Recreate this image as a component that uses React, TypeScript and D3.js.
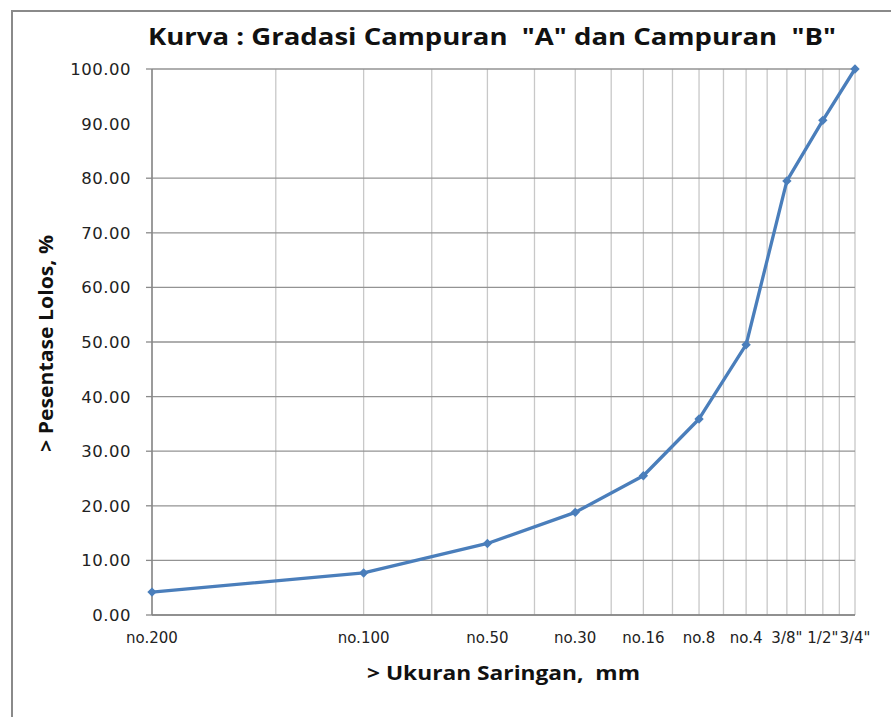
import React from "react";
import * as d3 from "d3";

// Sieve labels and their plotting positions on the logarithmic axis
const sieveLabels = ["no.200", "no.100", "no.50", "no.30", "no.16", "no.8", "no.4", '3/8"', '1/2"', '3/4"'];
const plotPositions = [2, 4, 6, 8, 10, 12, 14, 16, 18, 20];
// Percent passing
const passing = [4.2, 7.7, 13.1, 18.8, 25.5, 35.9, 49.5, 79.5, 90.6, 100];
// Y ticks
const yTicks = [0, 10, 20, 30, 40, 50, 60, 70, 80, 90, 100];
const yGridSkip = [90];
const xGridValues = d3.range(2, 21);

const title = 'Kurva : Gradasi Campuran  "A" dan Campuran  "B"';
const yTitle = "> Pesentase Lolos, %";
const xTitle = "> Ukuran Saringan,  mm";

const W = 891;
const H = 717;
const M = { left: 152, right: 855, top: 69, bottom: 615 };

export default function App() {
  const x = d3.scaleLog().domain([2, 20]).range([M.left, M.right]);
  const y = d3.scaleLinear().domain([0, 100]).range([M.bottom, M.top]);
  const pts = plotPositions.map((p, i) => ({ p, v: passing[i], label: sieveLabels[i] }));
  const line = d3
    .line<{ p: number; v: number }>()
    .x((d) => x(d.p))
    .y((d) => y(d.v))
    .curve(d3.curveLinear);
  const diamond = d3.symbol().type(d3.symbolDiamond2).size(56)() as string;
  const blue = "#4a7ebb";

  return (
    <svg
      width={W}
      height={H}
      style={{ position: "absolute", left: 0, top: 0, background: "#fff" }}
      fontFamily="DejaVu Sans, Verdana, sans-serif"
    >
      <rect x={0} y={0} width={W} height={H} fill="#fff" />
      {/* outer frame */}
      <rect x={12} y={11} width={W + 20} height={H + 20} fill="none" stroke="#8a8a8a" strokeWidth={2} />

      {/* title */}
      <text
        x={(148 + 836) / 2}
        y={45}
        textAnchor="middle"
        fontFamily="Open Sans, Liberation Sans, sans-serif"
        fontWeight="bold"
        fontSize={24}
        textLength={688}
        lengthAdjust="spacingAndGlyphs"
        fill="#111"
        style={{ whiteSpace: "pre" }}
      >
        {title}
      </text>

      {/* vertical gridlines */}
      {xGridValues.map((g) => (
        <line key={"vx" + g} x1={x(g)} x2={x(g)} y1={M.top} y2={M.bottom} stroke="#c8c8c8" strokeWidth={1.3} />
      ))}
      {/* horizontal gridlines */}
      {yTicks
        .filter((t) => !yGridSkip.includes(t))
        .map((t) => (
          <g key={"hy" + t}>
            <line x1={M.left} x2={M.right} y1={y(t)} y2={y(t)} stroke="#939393" strokeWidth={1.3} />
            <line x1={M.left - 6} x2={M.left} y1={y(t)} y2={y(t)} stroke="#8a8a8a" strokeWidth={1.3} />
          </g>
        ))}
      {/* axes */}
      <line x1={M.left} x2={M.left} y1={M.top} y2={M.bottom} stroke="#868686" strokeWidth={1.5} />
      <line x1={M.left} x2={M.right} y1={M.bottom} y2={M.bottom} stroke="#868686" strokeWidth={1.5} />

      {/* y tick labels */}
      {yTicks.map((t) => (
        <text
          key={"yl" + t}
          x={131}
          y={y(t)}
          dy="0.36em"
          textAnchor="end"
          fontSize={16.5}
          letterSpacing={0.5}
          fill="#222"
        >
          {t.toFixed(2)}
        </text>
      ))}

      {/* x tick labels */}
      {pts.map((d) => (
        <text key={"xl" + d.label} x={x(d.p)} y={643} textAnchor="middle" fontSize={15} fill="#222">
          {d.label}
        </text>
      ))}

      {/* axis titles */}
      <text
        transform={`translate(53, ${(235 + 452) / 2}) rotate(-90)`}
        textAnchor="middle"
        fontFamily="Open Sans, Liberation Sans, sans-serif"
        fontWeight="bold"
        fontSize={19}
        textLength={217}
        lengthAdjust="spacingAndGlyphs"
        fill="#111"
      >
        {yTitle}
      </text>
      <text
        x={(367 + 640) / 2}
        y={680}
        textAnchor="middle"
        fontFamily="Open Sans, Liberation Sans, sans-serif"
        fontWeight="bold"
        fontSize={19}
        textLength={273}
        lengthAdjust="spacingAndGlyphs"
        fill="#111"
        style={{ whiteSpace: "pre" }}
      >
        {xTitle}
      </text>

      {/* data line */}
      <path d={line(pts) || ""} fill="none" stroke={blue} strokeWidth={3.3} strokeLinejoin="round" />
      {pts.map((d) => (
        <path key={"m" + d.label} d={diamond} transform={`translate(${x(d.p)},${y(d.v)})`} fill={blue} />
      ))}
    </svg>
  );
}
